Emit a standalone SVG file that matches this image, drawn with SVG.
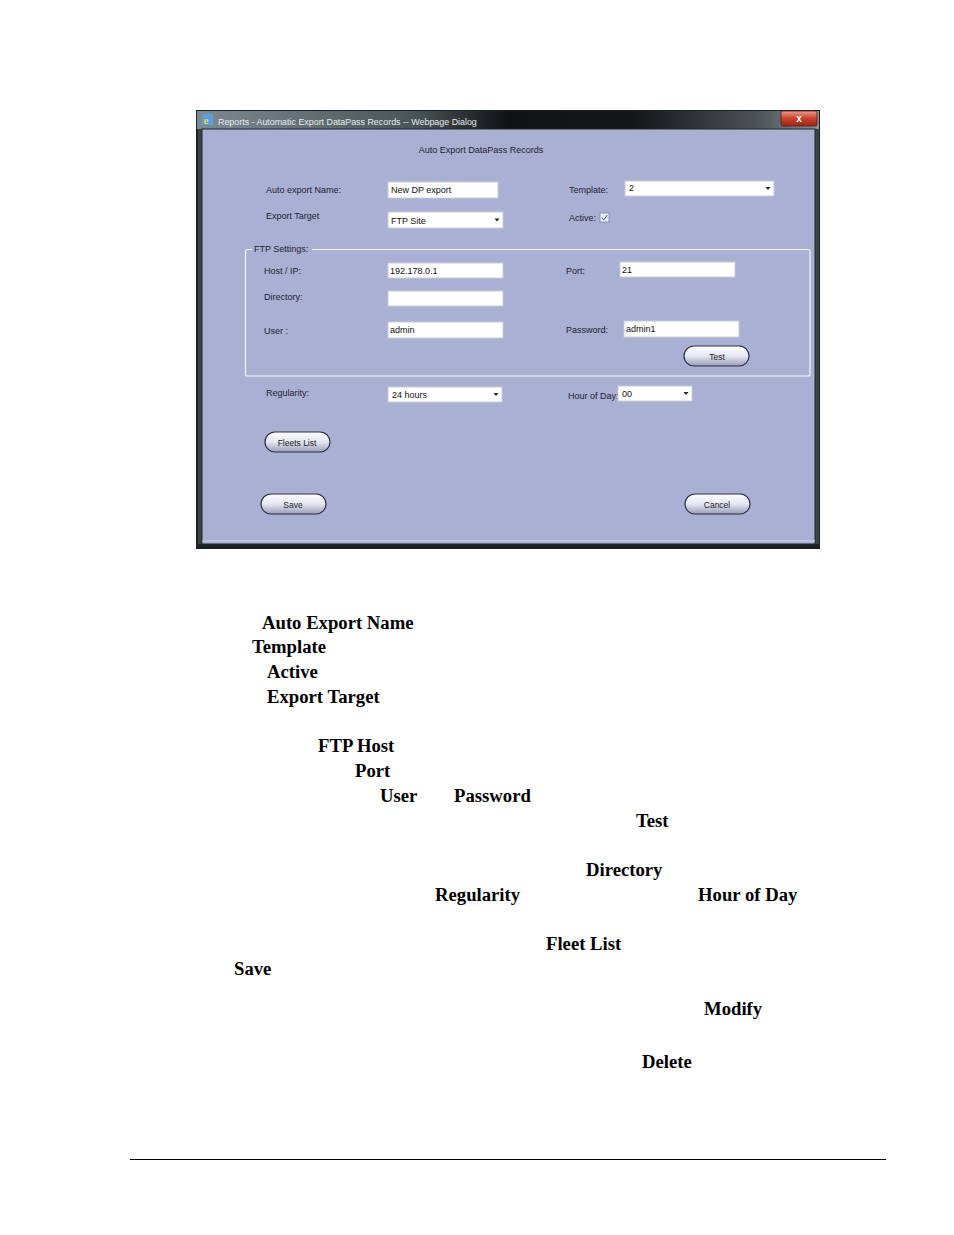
<svg xmlns="http://www.w3.org/2000/svg" width="954" height="1235" viewBox="0 0 954 1235">
<defs>
<linearGradient id="tb" x1="0" y1="0" x2="1" y2="0">
<stop offset="0" stop-color="#7d8a90"/>
<stop offset="0.35" stop-color="#4a5458"/>
<stop offset="0.5" stop-color="#101214"/>
<stop offset="0.7" stop-color="#141618"/>
<stop offset="0.9" stop-color="#4c5256"/>
<stop offset="1" stop-color="#8a9296"/>
</linearGradient>
<linearGradient id="cls" x1="0" y1="0" x2="0" y2="1">
<stop offset="0" stop-color="#e8a090"/>
<stop offset="0.5" stop-color="#c8402a"/>
<stop offset="1" stop-color="#a02818"/>
</linearGradient>
<linearGradient id="btn" x1="0" y1="0" x2="0" y2="1">
<stop offset="0" stop-color="#ffffff"/>
<stop offset="0.5" stop-color="#e4e6f0"/>
<stop offset="1" stop-color="#9a9eb8"/>
</linearGradient>
<style>
.lbl{font-family:"Liberation Sans",Arial,sans-serif;font-size:9px;fill:#1e2030}
.val{font-family:"Liberation Sans",Arial,sans-serif;font-size:9px;fill:#111}
.box{fill:#ffffff;stroke:#c8ccd8;stroke-width:1}
.arr{fill:#222}
.bt{fill:url(#btn);stroke:#2c2e40;stroke-width:1.2}
.btt{font-family:"Liberation Sans",Arial,sans-serif;font-size:8.5px;fill:#222;text-anchor:middle}
.doc{font-family:"Liberation Serif","Times New Roman",serif;font-size:18.7px;font-weight:bold;fill:#000}
</style>
</defs>
<rect width="954" height="1235" fill="#ffffff"/>
<g id="dialog">
<rect x="196" y="110" width="624" height="439" fill="#1c2224"/>
<rect x="197" y="111" width="622" height="18" fill="url(#tb)"/>
<rect x="198" y="129" width="4" height="415" fill="#3a4244"/>
<rect x="815" y="129" width="4" height="415" fill="#3a4244"/>
<rect x="202" y="129" width="613" height="415" fill="#aab0d4" stroke="#20262a" stroke-width="1"/>
<line x1="202" y1="541" x2="815" y2="541" stroke="#d0d4e8" stroke-width="1"/>
<g id="icon">
<rect x="202" y="114" width="11" height="11" rx="1" fill="#5aa0e0"/>
<text x="203.5" y="124" font-family="Liberation Serif,serif" font-size="11" font-weight="bold" fill="#f2d040">e</text>
</g>
<text x="218" y="125" font-family="Liberation Sans,Arial,sans-serif" font-size="8.9" fill="#e8ecf0">Reports - Automatic Export DataPass Records -- Webpage Dialog</text>
<g id="close">
<rect x="781" y="111" width="36" height="15" rx="2" fill="url(#cls)" stroke="#5a1a10" stroke-width="0.8"/>
<text x="799" y="122" font-family="Liberation Sans,Arial,sans-serif" font-size="10" font-weight="bold" fill="#fff" text-anchor="middle">x</text>
</g>
<text x="481" y="153" class="lbl" text-anchor="middle">Auto Export DataPass Records</text>
</g>
<g id="name-field">
<text x="266" y="193" class="lbl">Auto export Name:</text>
<rect x="388" y="182" width="110" height="16" class="box"/>
<text x="391" y="193" class="val">New DP export</text>
</g>
<g id="target-field">
<text x="266" y="219" class="lbl">Export Target</text>
<rect x="388" y="212" width="115" height="16" class="box"/>
<text x="391" y="224" class="val">FTP Site</text>
<path d="M494.5 218.5 h5 l-2.5 3 z" class="arr"/>
</g>
<g id="template-field">
<text x="569" y="193" class="lbl">Template:</text>
<rect x="625" y="181" width="149" height="15" class="box"/>
<text x="629" y="191" class="val">2</text>
<path d="M765.5 187 h5 l-2.5 3 z" class="arr"/>
</g>
<g id="active-field">
<text x="569" y="221" class="lbl">Active:</text>
<rect x="600" y="213" width="9" height="9" fill="#e8eaf4" stroke="#8088a8" stroke-width="0.8"/>
<path d="M601.8 217.5 l2 2.5 l3.5 -5" fill="none" stroke="#4a58a0" stroke-width="1"/>
</g>
<g id="ftp-settings">
<path d="M252 249.5 H247.5 Q245.5 249.5 245.5 251.5 V374 Q245.5 376 247.5 376 H808 Q810 376 810 374 V251.5 Q810 249.5 808 249.5 H312" fill="none" stroke="#f2f4fa" stroke-width="1.2"/>
<text x="254" y="252" class="lbl">FTP Settings:</text>
</g>
<g id="host-field">
<text x="264" y="274" class="lbl">Host / IP:</text>
<rect x="388" y="263" width="115" height="15" class="box"/>
<text x="390" y="274" class="val">192.178.0.1</text>
</g>
<g id="dir-field">
<text x="264" y="300" class="lbl">Directory:</text>
<rect x="388" y="291" width="115" height="15" class="box"/>
</g>
<g id="user-field">
<text x="264" y="334" class="lbl">User :</text>
<rect x="388" y="322" width="115" height="16" class="box"/>
<text x="390" y="333" class="val">admin</text>
</g>
<g id="port-field">
<text x="566" y="274" class="lbl">Port:</text>
<rect x="620" y="262" width="115" height="15" class="box"/>
<text x="622" y="273" class="val">21</text>
</g>
<g id="password-field">
<text x="566" y="333" class="lbl">Password:</text>
<rect x="624" y="321" width="115" height="16" class="box"/>
<text x="626" y="332" class="val">admin1</text>
</g>
<g id="test-button">
<rect x="684" y="346" width="65" height="20" rx="10" class="bt"/>
<text x="717" y="360" class="btt">Test</text>
</g>
<g id="regularity-field">
<text x="266" y="396" class="lbl">Regularity:</text>
<rect x="388" y="387" width="114" height="15" class="box"/>
<text x="392" y="398" class="val">24 hours</text>
<path d="M493.5 393 h5 l-2.5 3 z" class="arr"/>
</g>
<g id="hour-field">
<text x="568" y="399" class="lbl">Hour of Day:</text>
<rect x="618" y="386" width="74" height="15" class="box"/>
<text x="622" y="397" class="val">00</text>
<path d="M683.5 392 h5 l-2.5 3 z" class="arr"/>
</g>
<g id="fleets-button">
<rect x="265" y="432" width="65" height="20" rx="10" class="bt"/>
<text x="297" y="446" class="btt">Fleets List</text>
</g>
<g id="save-button">
<rect x="261" y="494" width="65" height="20" rx="10" class="bt"/>
<text x="293" y="508" class="btt">Save</text>
</g>
<g id="cancel-button">
<rect x="685" y="494" width="65" height="20" rx="10" class="bt"/>
<text x="717" y="508" class="btt">Cancel</text>
</g>
<g id="doc-text">
<text x="262" y="629" class="doc">Auto Export Name</text>
<text x="252" y="653" class="doc">Template</text>
<text x="267" y="678" class="doc">Active</text>
<text x="267" y="703" class="doc">Export Target</text>
<text x="318" y="752" class="doc">FTP Host</text>
<text x="355" y="777" class="doc">Port</text>
<text x="380" y="802" class="doc">User</text>
<text x="454" y="802" class="doc">Password</text>
<text x="636" y="827" class="doc">Test</text>
<text x="586" y="876" class="doc">Directory</text>
<text x="435" y="901" class="doc">Regularity</text>
<text x="698" y="901" class="doc">Hour of Day</text>
<text x="546" y="950" class="doc">Fleet List</text>
<text x="234" y="975" class="doc">Save</text>
<text x="704" y="1015" class="doc">Modify</text>
<text x="642" y="1068" class="doc">Delete</text>
</g>
<line x1="130" y1="1159.5" x2="886" y2="1159.5" stroke="#000" stroke-width="1"/>
</svg>
